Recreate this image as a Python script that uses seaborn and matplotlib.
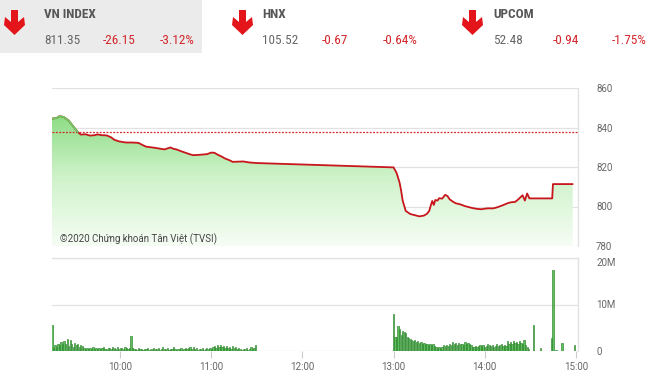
import numpy as np
import pandas as pd
import matplotlib
matplotlib.use("Agg")
import matplotlib.pyplot as plt
from matplotlib.patches import Polygon, Rectangle
from matplotlib.colors import LinearSegmentedColormap
from matplotlib import font_manager
import seaborn as sns

# ---------------- data ----------------
idx_names = ["VN INDEX", "HNX", "UPCOM"]
idx_values = ["811.35", "105.52", "52.48"]
idx_changes = ["-26.15", "-0.67", "-0.94"]
idx_pcts = ["-3.12%", "-0.64%", "-1.75%"]

ref_price = 837.5

# price: minutes after 9:15, index value
price_t = [0, 3, 5, 8, 11, 14, 17, 19, 22, 25, 28, 30, 33, 36, 39, 41, 44, 47, 49,
           53, 57, 60, 62, 65, 68, 71, 74, 76, 78, 80, 82, 85, 88, 91, 93, 96, 99,
           102, 105, 107, 109, 112, 114, 117, 119, 122, 126, 130, 135,
           225, 227, 229, 230, 231, 233, 236, 239, 242, 245, 247, 248.5, 249.5,
           250.5, 251.5, 252.5, 254, 255, 257, 259, 260.5, 262, 264, 266, 268, 270,
           272, 274, 277, 280, 283, 285, 288, 290, 292, 294, 296.5, 299, 301, 303,
           305, 307, 308.5, 310, 311.5, 313, 314.5, 315, 329.5, 330, 343]
price_v = [844.5, 844.8, 845.8, 845.2, 843.5, 840.6, 837.7, 836.4, 836.6, 835.9, 836.1,
           836.5, 836.1, 836.0, 835.0, 833.8, 833.0, 832.6, 832.4,
           832.4, 832.2, 831.0, 830.3, 830.0, 829.7, 829.3, 828.9, 829.4, 829.9, 829.2,
           828.9, 828.0, 827.2, 826.4, 826.0, 826.1, 826.3, 826.5, 827.3, 827.2, 826.3,
           825.2, 824.3, 823.4, 822.6, 822.7, 822.8, 822.3, 822.0,
           819.8, 817.0, 812.0, 808.0, 803.0, 797.8, 796.2, 795.6, 795.0, 795.4, 796.3,
           797.8, 800.5, 802.8, 800.8, 803.3, 803.0, 804.2, 804.0, 805.9, 805.3, 803.6,
           802.5, 801.6, 801.3, 800.8, 800.2, 799.8, 799.2, 798.8, 798.6, 798.9, 799.1,
           799.0, 799.3, 799.8, 800.5, 801.3, 801.9, 802.2, 802.3, 803.5, 804.6, 805.7,
           803.0, 806.6, 804.1, 804.1, 804.1, 811.35, 811.35]

# volume (millions), one bar per minute
vol_am = [5.6, 0.7, 1.3, 0.9, 1.6, 1.2, 1.9, 1.5, 2.2, 1.4, 2.5, 1.1, 2.3, 1.6, 0.9, 1.8,
          1.2, 1.6, 0.8, 1.3, 1.0, 0.6, 0.5, 0.7, 0.4, 0.6, 0.5, 0.8, 0.4, 0.6, 0.5, 0.7,
          0.4, 0.6, 0.8, 0.5, 0.4, 0.7, 0.6, 0.5, 0.8, 0.6, 0.4, 0.9, 0.5, 0.7, 0.6, 0.4,
          0.8, 0.6, 0.5, 0.7, 3.2, 0.6, 0.4, 0.5, 0.3, 0.6, 0.4, 0.5, 0.3, 0.5, 0.4, 0.6,
          0.3, 0.5, 0.4, 0.7, 0.5, 0.4, 0.6, 0.3, 0.5, 0.9, 0.4, 0.5, 0.6, 0.3, 0.4, 0.5,
          0.8, 0.4, 0.3, 0.5, 0.4, 0.6, 0.3, 0.5, 0.7, 0.4, 0.6, 0.9, 0.5, 0.8, 0.4, 0.6,
          0.3, 0.5, 0.4, 0.6, 0.3, 0.5, 0.7, 0.4, 0.6, 0.5, 0.8, 1.1, 0.7, 1.3, 0.9, 1.2,
          0.8, 1.1, 0.6, 1.0, 0.7, 0.9, 0.5, 1.0, 0.6, 0.8, 0.4, 0.7, 0.5, 0.3, 0.5, 0.4,
          0.6, 0.3, 0.5, 0.8, 0.4, 0.6, 1.2]
vol_pm = [8.0, 3.1, 3.1, 5.3, 4.8, 3.5, 4.2, 4.1, 3.8, 3.1, 2.9, 2.6, 2.4, 2.2, 2.3, 1.9,
          2.1, 1.7, 1.9, 1.5, 1.7, 1.4, 1.6, 1.3, 1.5, 1.2, 1.4, 1.0, 0.8, 0.7, 0.9, 0.7,
          0.8, 1.2, 1.0, 1.3, 1.1, 1.6, 1.2, 1.9, 1.4, 1.7, 1.3, 1.8, 1.5, 1.6, 1.3, 1.9,
          1.5, 1.7, 1.4, 1.2, 0.9, 0.8, 1.0, 0.9, 1.1, 1.3, 1.0, 1.2, 0.9, 1.1, 1.4, 1.2,
          1.0, 1.3, 0.9, 1.1, 1.4, 1.0, 1.2, 1.5, 1.1, 1.3, 1.0, 2.2, 1.6, 1.9, 1.4, 2.1,
          1.7, 2.0, 1.5, 2.2, 1.8, 1.6, 2.3, 1.2, 0.8, 0.5]
atc_t = [317, 322, 329, 330, 332, 336, 344]
atc_v = [5.6, 0.6, 2.8, 17.4, 0.3, 1.7, 1.3]

xtick_pos = [45, 105, 165, 225, 285, 345]
xtick_labels = ["10:00", "11:00", "12:00", "13:00", "14:00", "15:00"]
price_ticks = [780, 800, 820, 840, 860]
vol_ticks = [0, 10, 20]
vol_tick_labels = ["0", "10M", "20M"]

# ---------------- styling ----------------
sns.set_theme(style="white")
plt.rcParams['font.family'] = ['Roboto', 'DejaVu Sans']

# pick a condensed face if one is installed
names = {f.name for f in font_manager.fontManager.ttflist}
cond = None
for cand in ["Roboto Condensed", "Liberation Sans Narrow", "DejaVu Sans Condensed",
             "Open Sans Condensed", "Noto Sans Condensed"]:
    if cand in names:
        cond = cand
        break
condensed_stretch = any(("DejaVu Sans" == f.name and "ondensed" in f.fname)
                        for f in font_manager.fontManager.ttflist)

W, H = 660, 376
fig = plt.figure(figsize=(W / 100, H / 100), dpi=100)
fig.patch.set_facecolor("white")

RED = "#d3262b"
GRID = "#e2e2e2"
LBL = "#666666"
if cond is not None:
    hfont = dict(family=[cond, 'Roboto', 'DejaVu Sans'], fontsize=9.5)
elif condensed_stretch:
    hfont = dict(family=['DejaVu Sans'], stretch='condensed', fontsize=8.5)
else:
    hfont = dict(family=['Roboto', 'DejaVu Sans'], fontsize=8.2)

hdr = fig.add_axes([0, 0, 1, 1], zorder=0)
hdr.set_xlim(0, W)
hdr.set_ylim(H, 0)
hdr.axis("off")
hdr.add_patch(Rectangle((0, 0), 202, 53, facecolor="#ebebeb", edgecolor="none"))

arrow_x = [4, 232, 462]
name_x = [44, 262, 493]
chg_x = [103, 322, 553]
pct_x = [160, 383, 612]
for i in range(3):
    x0 = arrow_x[i]
    shape = [(x0 + 7, 10), (x0 + 14, 10), (x0 + 14, 22), (x0 + 20, 17), (x0 + 21, 25),
             (x0 + 10.5, 35), (x0 + 0, 25), (x0 + 1, 17), (x0 + 7, 22)]
    hdr.add_patch(Polygon(shape, closed=True, facecolor="#e4141b", edgecolor="none"))
    hdr.text(name_x[i], 15, idx_names[i], color="#555555", weight="bold",
             va="center", ha="left", **hfont)
    hdr.text(name_x[i], 41, idx_values[i], color="#666666",
             va="center", ha="left", **hfont)
    hdr.text(chg_x[i], 41, idx_changes[i], color=RED, va="center", ha="left", **hfont)
    hdr.text(pct_x[i], 41, idx_pcts[i], color=RED, va="center", ha="left", **hfont)

def frac(l, t, r, b):
    return [l / W, 1 - b / H, (r - l) / W, (b - t) / H]

XMIN, XMAX = 0, 346.5

# ---------------- price panel ----------------
ax = fig.add_axes(frac(52, 88, 578, 246), zorder=2)
ax.set_facecolor("none")
df = pd.DataFrame({"t": price_t, "v": price_v})

poly = ax.fill_between(price_t, price_v, 780, color="none", lw=0)
cmap = LinearSegmentedColormap.from_list("g", ["#f6fdf5", "#cdf2c8", "#7fd876"])
grad = np.linspace(0, 1, 256).reshape(-1, 1)
im = ax.imshow(grad, extent=[XMIN, XMAX, 780, 852], origin="lower", aspect="auto",
               cmap=cmap, zorder=1)
im.set_clip_path(poly.get_paths()[0], transform=ax.transData)

for y in price_ticks:
    ax.axhline(y, color=GRID, lw=0.9, zorder=0)
ax.axhline(ref_price, color=RED, lw=0.9, ls=(0, (1.5, 1.2)), zorder=3)

sns.lineplot(data=df, x="t", y="v", ax=ax, color="#c8161d", lw=1.3, zorder=4)
above = df[df["t"] <= 17]
sns.lineplot(data=above, x="t", y="v", ax=ax, color="#6cc964", lw=1.3, zorder=5)

ax.set_xlim(XMIN, XMAX)
ax.set_ylim(780, 860)
ax.yaxis.tick_right()
ax.set_yticks(price_ticks)
ax.set_yticklabels([str(v) for v in price_ticks])
ax.tick_params(axis="y", length=0, pad=13, labelsize=7, labelcolor=LBL)
ax.set_xticks([])
ax.set_xlabel("")
ax.set_ylabel("")
for s in ["left", "top", "bottom"]:
    ax.spines[s].set_visible(False)
ax.spines["right"].set_color(GRID)
ax.spines["right"].set_linewidth(1.0)
ax.text(5, 783.5, "©2020 Chứng khoán Tân Việt (TVSI)", fontsize=7, color="#444444",
        ha="left", va="center", zorder=6)

# ---------------- volume panel ----------------
axv = fig.add_axes(frac(52, 258, 578, 351), zorder=2)
axv.set_facecolor("none")
for y in vol_ticks:
    axv.axhline(y, color=GRID, lw=0.9, zorder=0)
t_am = np.arange(len(vol_am))
t_pm = 225 + np.arange(len(vol_pm))
bar_kw = dict(width=0.85, color="#62bf60", edgecolor="#2a862a", linewidth=0.45, zorder=3)
axv.bar(t_am, vol_am, **bar_kw)
axv.bar(t_pm, vol_pm, **bar_kw)
axv.bar(atc_t, atc_v, **bar_kw)

axv.set_xlim(XMIN, XMAX)
axv.set_ylim(0, 20)
axv.yaxis.tick_right()
axv.set_yticks(vol_ticks)
axv.set_yticklabels(vol_tick_labels)
for lab in axv.get_yticklabels():
    if lab.get_text() == "20M":
        lab.set_va("top")
axv.tick_params(axis="y", length=0, pad=13, labelsize=7, labelcolor=LBL)
axv.set_xticks(xtick_pos)
axv.set_xticklabels(xtick_labels)
axv.tick_params(axis="x", length=5, width=0.8, color="#cccccc", pad=3,
                labelsize=7, labelcolor=LBL, bottom=True)
for s in ["left", "bottom"]:
    axv.spines[s].set_visible(False)
for s in ["top", "right"]:
    axv.spines[s].set_color(GRID)
    axv.spines[s].set_linewidth(1.0)

fig.savefig("out.png", dpi=100, facecolor="white")
